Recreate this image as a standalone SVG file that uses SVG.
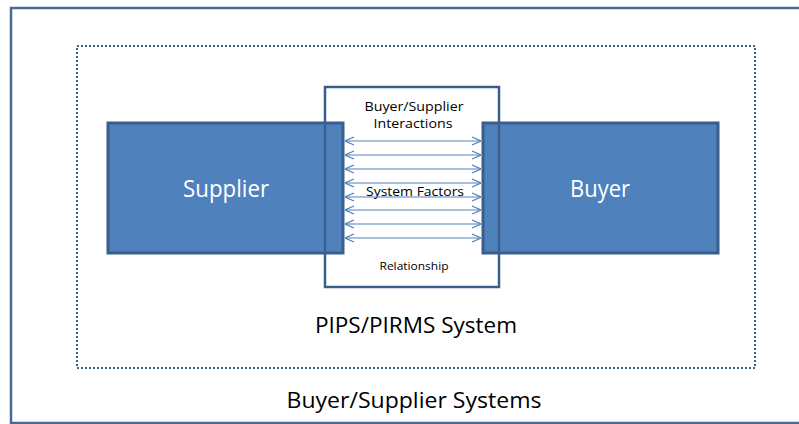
<svg xmlns="http://www.w3.org/2000/svg" width="799" height="424" viewBox="0 0 799 424">
  <style>
    .frame { fill: none; stroke: #4A6A94; stroke-width: 2.5; }
    .scope { fill: none; stroke: #3B5E8C; stroke-width: 2; stroke-dasharray: 2 2; }
    .party { fill: #4F81BD; stroke: #3A5F8D; stroke-width: 3; }
    .hub { fill: none; stroke: #3A5F8D; stroke-width: 2.5; }
    .link { stroke: #4F81BD; stroke-width: 1.2; fill: none; marker-start: url(#chev); marker-end: url(#chev); }
    .t { font-family: "Open Sans", "Liberation Sans", sans-serif; text-anchor: middle; fill: #000; }
    .tw { font-family: "Open Sans", "Liberation Sans", sans-serif; text-anchor: middle; fill: #FFFFFF; }
  </style>
  <defs>
    <marker id="chev" viewBox="0 0 10 10" refX="10" refY="5" markerWidth="10" markerHeight="10" markerUnits="userSpaceOnUse" orient="auto-start-reverse">
      <path d="M1,1 L10,5 L1,9" fill="none" stroke="#4F81BD" stroke-width="1.2"/>
    </marker>
  </defs>

  <rect width="799" height="424" fill="#FFFFFF"/>

  <!-- outer system boundary -->
  <g id="buyer-supplier-systems">
    <rect class="frame" x="11" y="8" width="800" height="415"/>
    <text class="t" x="414" y="408" font-size="21" textLength="255" lengthAdjust="spacingAndGlyphs">Buyer/Supplier Systems</text>
  </g>

  <!-- dotted inner system boundary -->
  <g id="pips-pirms-system">
    <rect class="scope" x="77" y="46" width="678" height="322"/>
    <text class="t" x="416" y="333" font-size="21" textLength="202" lengthAdjust="spacingAndGlyphs">PIPS/PIRMS System</text>
  </g>

  <g id="supplier">
    <rect class="party" x="108" y="123" width="235" height="130"/>
    <text class="tw" x="226" y="197" font-size="23" textLength="86" lengthAdjust="spacingAndGlyphs">Supplier</text>
  </g>

  <g id="buyer">
    <rect class="party" x="483" y="123" width="235" height="130"/>
    <text class="tw" x="600" y="197" font-size="23" textLength="60" lengthAdjust="spacingAndGlyphs">Buyer</text>
  </g>

  <!-- relationship box, outline only so the party boxes show through -->
  <g id="relationship">
    <rect class="hub" x="325" y="87" width="174" height="200"/>
    <text class="t" x="414" y="111" font-size="13.5" textLength="99" lengthAdjust="spacingAndGlyphs">Buyer/Supplier</text>
    <text class="t" x="413" y="128" font-size="13.5" textLength="79" lengthAdjust="spacingAndGlyphs">Interactions</text>
    <text class="t" x="415" y="196" font-size="13.5" textLength="98" lengthAdjust="spacingAndGlyphs">System Factors</text>
    <text class="t" x="414" y="270" font-size="11.5" textLength="69" lengthAdjust="spacingAndGlyphs">Relationship</text>
  </g>

  <!-- two-way interaction arrows -->
  <g id="connectors">
    <line class="link" x1="345" y1="141" x2="481" y2="141"/>
    <line class="link" x1="345" y1="155" x2="481" y2="155"/>
    <line class="link" x1="345" y1="169" x2="481" y2="169"/>
    <line class="link" x1="345" y1="183" x2="481" y2="183"/>
    <line class="link" x1="345" y1="197" x2="481" y2="197"/>
    <line class="link" x1="345" y1="210" x2="481" y2="210"/>
    <line class="link" x1="345" y1="224" x2="481" y2="224"/>
    <line class="link" x1="345" y1="238" x2="481" y2="238"/>
  </g>
</svg>
